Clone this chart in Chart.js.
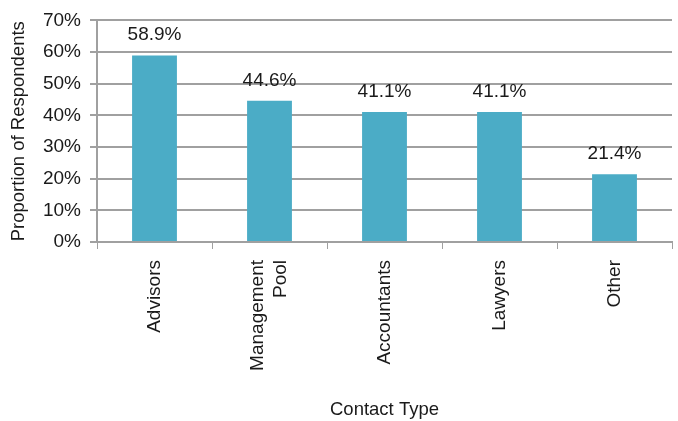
<!DOCTYPE html>
<html lang="en">
<head>
<meta charset="utf-8">
<title>Contact Type</title>
<script src="https://cdn.jsdelivr.net/npm/chart.js@4.4.0/dist/chart.umd.min.js"></script>
<style>
  html, body { margin: 0; padding: 0; background: #fff; }
  #wrap { width: 678px; height: 421px; position: relative; }
</style>
</head>
<body>
<div id="wrap"><canvas id="chart"></canvas></div>
<script>
// contact types and share of respondents (%)
var categories = ['Advisors', ['Management', 'Pool'], 'Accountants', 'Lawyers', 'Other'];
var proportions = [58.9, 44.6, 41.1, 41.1, 21.4];
var yTicks = [0, 10, 20, 30, 40, 50, 60, 70];

var FONT = 'Liberation Sans, Arial, sans-serif';
var TEXT = '#1a1a1a';
var GRID = '#a0a0a0';

// writes the value above each bar
var valueLabels = {
  id: 'valueLabels',
  afterDatasetsDraw: function (chart) {
    var ctx = chart.ctx;
    var meta = chart.getDatasetMeta(0);
    ctx.save();
    ctx.font = '19px ' + FONT;
    ctx.fillStyle = TEXT;
    ctx.textAlign = 'center';
    ctx.textBaseline = 'bottom';
    meta.data.forEach(function (bar, i) {
      ctx.fillText(proportions[i].toFixed(1) + '%', bar.x, bar.y - 11);
    });
    ctx.restore();
  }
};

// rotated multi-line labels start at the tick; centre the block on it instead
var centerLines = {
  id: 'centerLines',
  beforeDraw: function (chart) {
    var scale = chart.scales.x;
    var items = scale.getLabelItems(chart.chartArea);
    items.forEach(function (item) {
      if (Array.isArray(item.label) && !item._centred) {
        var lh = scale.options.ticks.font.size * 1.2;
        item.options.translation[0] -= (item.label.length - 1) * lh / 2;
        item._centred = true;
      }
    });
  }
};

new Chart(document.getElementById('chart'), {
  type: 'bar',
  data: {
    labels: categories,
    datasets: [{
      data: proportions,
      backgroundColor: '#4bacc6',
      barPercentage: 0.39,
      categoryPercentage: 1.0
    }]
  },
  options: {
    responsive: true,
    maintainAspectRatio: false,
    animation: false,
    layout: { padding: { top: 15, right: 6, left: 8, bottom: 0 } },
    plugins: {
      legend: { display: false },
      tooltip: { enabled: false }
    },
    scales: {
      x: {
        afterFit: function (axis) { axis.height = 179; },
        grid: { drawOnChartArea: false, color: GRID, tickLength: 7, offset: true },
        border: { color: GRID, width: 2 },
        ticks: {
          color: TEXT,
          font: { family: FONT, size: 19 },
          minRotation: 90,
          maxRotation: 90,
          padding: 11
        },
        title: {
          display: true,
          text: 'Contact Type',
          color: TEXT,
          font: { family: FONT, size: 18.5 },
          padding: { top: 0, bottom: 0 }
        }
      },
      y: {
        min: 0,
        max: 70,
        afterBuildTicks: function (axis) {
          axis.ticks = yTicks.map(function (v) { return { value: v }; });
        },
        afterFit: function (axis) { axis.width = 89; },
        grid: { color: GRID, lineWidth: 2, tickLength: 7 },
        border: { color: GRID, width: 2 },
        ticks: {
          color: TEXT,
          font: { family: FONT, size: 19 },
          padding: 9,
          callback: function (v) { return v + '%'; }
        },
        title: {
          display: true,
          text: 'Proportion of Respondents',
          color: TEXT,
          font: { family: FONT, size: 18.5 },
          padding: { top: 0, bottom: 4 }
        }
      }
    }
  },
  plugins: [valueLabels, centerLines]
});
</script>
</body>
</html>
